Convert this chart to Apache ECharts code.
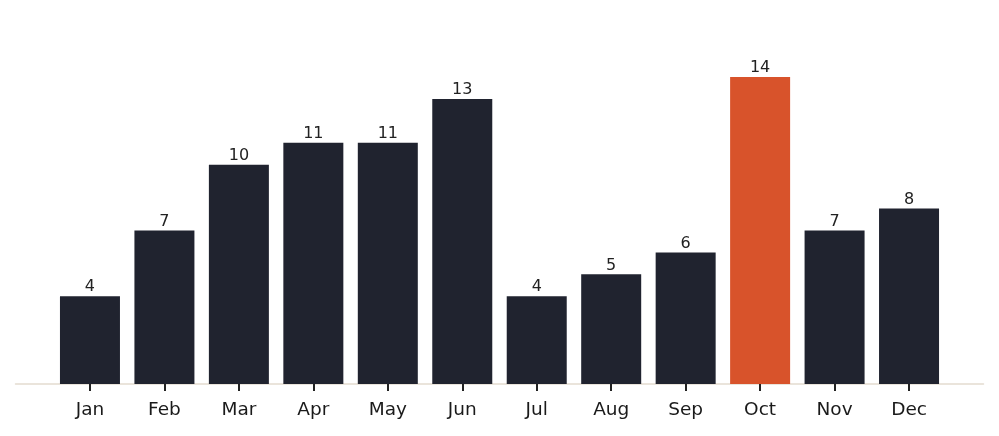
<!DOCTYPE html>
<html>
<head>
<meta charset="utf-8">
<script src="https://cdn.jsdelivr.net/npm/echarts@6/dist/echarts.min.js"></script>
<style>
  html, body { margin: 0; padding: 0; background: #fff; }
  #chart { width: 999px; height: 436px; }
</style>
</head>
<body>
<div id="chart"></div>
<script>
var months = ['Jan', 'Feb', 'Mar', 'Apr', 'May', 'Jun', 'Jul', 'Aug', 'Sep', 'Oct', 'Nov', 'Dec'];
var counts = [4, 7, 10, 11, 11, 13, 4, 5, 6, 14, 7, 8];
var highlightMonth = 'Oct';

// pad one empty slot each side so the axis runs a full step past Jan and Dec
var cats = [''].concat(months).concat(['']);
var barData = ['-'];
for (var i = 0; i < months.length; i++) {
    barData.push({
        value: counts[i],
        itemStyle: { color: months[i] == highlightMonth ? '#d8532b' : '#20232f' }
    });
}
barData.push('-');

var myChart = echarts.init(document.getElementById('chart'));
var option = {
    animation: false,
    grid: { left: 15.5, right: 15.5, top: 20, bottom: 52 },
    xAxis: {
        type: 'category',
        data: cats,
        boundaryGap: false,
        axisLine: { lineStyle: { color: '#e3dbd0', width: 1.5 } },
        axisTick: {
            length: 7,
            lineStyle: { color: '#222', width: 2 },
            interval: function (idx) { return idx > 0 && idx < cats.length - 1; }
        },
        axisLabel: {
            interval: 0,
            color: '#1a1a1a',
            fontSize: 18.5,
            fontFamily: 'DejaVu Sans',
            margin: 17
        },
        splitLine: { show: false }
    },
    yAxis: {
        type: 'value',
        min: 0,
        max: 16.6,
        show: false
    },
    series: [{
        type: 'bar',
        barWidth: 60,
        data: barData,
        label: {
            show: true,
            position: 'top',
            distance: 1,
            color: '#222',
            fontSize: 16,
            fontFamily: 'DejaVu Sans'
        }
    }]
};
myChart.setOption(option);
</script>
</body>
</html>
